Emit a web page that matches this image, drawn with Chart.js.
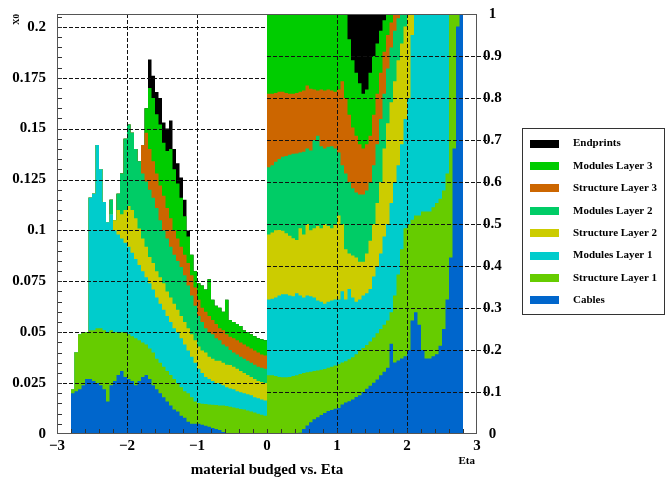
<!DOCTYPE html>
<html>
<head>
<meta charset="utf-8">
<script src="https://cdn.jsdelivr.net/npm/chart.js@4.4.1/dist/chart.umd.min.js"></script>
<style>
  html, body { margin: 0; padding: 0; background: #ffffff; }
  #wrap { width: 667px; height: 478px; }
</style>
</head>
<body>
<div id="wrap"><canvas id="chart" width="667" height="478"></canvas></div>
<script>
// Material budget of the detector layers versus pseudorapidity, in 0.05-wide eta bins.
// For eta < 0 every array holds the upper edge of that layer in the stack, in X0.
// For eta > 0 every array holds the upper edge of that layer as a fraction of the total.
const binWidth = 0.05;
const etaStartNeg = -2.8;
const etaStartPos = 0;

const layerNames = ['Cables', 'Structure Layer 1', 'Modules Layer 1', 'Structure Layer 2',
                    'Modules Layer 2', 'Structure Layer 3', 'Modules Layer 3', 'Endprints'];

const xTickLabels = ['\u22123', '\u22122', '\u22121', '0', '1', '2', '3'];
const x0TickLabels = ['0', '0.025', '0.05', '0.075', '0.1', '0.125', '0.15', '0.175', '0.2'];
const fracTickLabels = ['0', '0.1', '0.2', '0.3', '0.4', '0.5', '0.6', '0.7', '0.8', '0.9', '1'];

// ---- eta from -2.8 to 0 (X0) ----
const cablesX0 = [0.020,0.021,0.022,0.024,0.027,0.027,0.026,0.025,0.024,0.022,
  0.016,0.024,0.026,0.029,0.031,0.028,0.027,0.026,0.024,0.026,
  0.028,0.029,0.027,0.024,0.022,0.020,0.018,0.016,0.014,0.012,
  0.011,0.009,0.008,0.006,0.005,0.005,0.005,0.0045,0.004,0.0035,
  0.003,0.0025,0.002,0.001,0,0,0,0,0,0,
  0,0,0,0,0,0];
const structL1X0 = [0.022,0.040,0.049,0.050,0.050,0.051,0.051,0.052,0.052,0.051,
  0.050,0.051,0.050,0.050,0.050,0.050,0.049,0.048,0.047,0.046,
  0.045,0.044,0.042,0.040,0.037,0.035,0.033,0.031,0.029,0.027,
  0.025,0.023,0.021,0.020,0.018,0.016,0.0152,0.0149,0.0147,0.0145,
  0.0144,0.0142,0.014,0.014,0.0138,0.0134,0.013,0.0127,0.0123,0.012,
  0.0115,0.011,0.0105,0.010,0.0095,0.009];
const modL1X0 = [0.022,0.040,0.049,0.050,0.050,0.116,0.118,0.142,0.130,0.114,
  0.104,0.108,0.100,0.098,0.096,0.094,0.092,0.089,0.086,0.083,
  0.080,0.077,0.074,0.071,0.067,0.064,0.061,0.058,0.055,0.052,
  0.050,0.047,0.044,0.041,0.038,0.035,0.032,0.030,0.028,0.027,
  0.026,0.025,0.025,0.024,0.023,0.0224,0.022,0.021,0.0205,0.020,
  0.0195,0.019,0.018,0.0175,0.017,0.0165];
const structL2X0 = [0.022,0.040,0.049,0.050,0.050,0.116,0.118,0.142,0.130,0.114,
  0.104,0.108,0.105,0.110,0.108,0.110,0.112,0.110,0.106,0.101,
  0.096,0.092,0.087,0.084,0.080,0.077,0.074,0.070,0.067,0.064,
  0.061,0.058,0.055,0.052,0.049,0.046,0.043,0.041,0.040,0.038,
  0.037,0.036,0.036,0.035,0.034,0.0339,0.033,0.032,0.031,0.030,
  0.029,0.028,0.027,0.026,0.0255,0.025];
const modL2X0 = [0.022,0.040,0.049,0.050,0.050,0.116,0.118,0.142,0.130,0.114,
  0.104,0.115,0.105,0.118,0.128,0.145,0.152,0.148,0.140,0.134,
  0.128,0.124,0.120,0.116,0.111,0.105,0.100,0.096,0.092,0.088,
  0.085,0.082,0.078,0.073,0.068,0.063,0.058,0.055,0.052,0.050,
  0.049,0.047,0.046,0.044,0.043,0.0413,0.040,0.039,0.038,0.037,
  0.036,0.035,0.034,0.033,0.0325,0.032];
const structL3X0 = [0.022,0.040,0.049,0.050,0.050,0.116,0.118,0.142,0.130,0.114,
  0.104,0.115,0.105,0.118,0.128,0.145,0.152,0.148,0.140,0.134,
  0.142,0.148,0.140,0.134,0.128,0.122,0.117,0.111,0.106,0.100,
  0.096,0.092,0.088,0.084,0.078,0.072,0.066,0.062,0.060,0.058,
  0.056,0.054,0.052,0.051,0.049,0.0478,0.047,0.046,0.045,0.044,
  0.043,0.042,0.041,0.040,0.039,0.0385];
const modL3X0 = [0.022,0.040,0.049,0.050,0.050,0.116,0.118,0.142,0.130,0.114,
  0.104,0.115,0.105,0.118,0.128,0.145,0.152,0.148,0.140,0.134,
  0.142,0.160,0.170,0.165,0.157,0.152,0.143,0.139,0.140,0.130,
  0.123,0.116,0.107,0.097,0.088,0.080,0.074,0.073,0.071,0.076,
  0.066,0.063,0.062,0.060,0.066,0.056,0.055,0.054,0.053,0.051,
  0.050,0.049,0.048,0.047,0.0465,0.046];
const endprintsX0 = [0.022,0.040,0.049,0.050,0.050,0.116,0.118,0.142,0.130,0.114,
  0.104,0.115,0.105,0.118,0.128,0.145,0.152,0.148,0.140,0.134,
  0.142,0.160,0.184,0.176,0.168,0.165,0.153,0.150,0.154,0.140,
  0.133,0.126,0.115,0.100,0.088,0.080,0.074,0.073,0.071,0.076,
  0.066,0.063,0.062,0.060,0.066,0.056,0.055,0.054,0.053,0.051,
  0.050,0.049,0.048,0.047,0.0465,0.046];

// ---- eta from 0 to 2.8 (fraction of total) ----
const cablesFrac = [0,0,0,0,0,0,0,0,0,0.003,
  0.012,0.020,0.028,0.035,0.040,0.045,0.050,0.055,0.057,0.060,
  0.062,0.070,0.075,0.078,0.082,0.088,0.092,0.100,0.108,0.115,
  0.122,0.130,0.140,0.148,0.158,0.215,0.170,0.175,0.180,0.185,
  0.200,0.270,0.290,0.260,0.200,0.180,0.180,0.185,0.190,0.210,
  0.250,0.320,0.420,0.680,0.970,1];
const structL1Frac = [0.140,0.140,0.138,0.136,0.135,0.135,0.136,0.138,0.140,0.143,
  0.145,0.147,0.148,0.150,0.151,0.153,0.155,0.158,0.160,0.163,
  0.166,0.170,0.173,0.178,0.183,0.190,0.198,0.205,0.212,0.220,
  0.230,0.240,0.250,0.260,0.270,0.290,0.330,0.380,0.440,0.490,
  0.500,0.510,0.520,0.520,0.530,0.530,0.530,0.540,0.550,0.560,
  0.580,0.620,1,1,1,1];
const modL1Frac = [0.320,0.322,0.325,0.330,0.333,0.333,0.330,0.328,0.335,0.330,
  0.325,0.330,0.328,0.325,0.318,0.315,0.310,0.315,0.318,0.320,
  0.320,0.340,0.320,0.345,0.325,0.315,0.320,0.330,0.335,0.345,
  0.375,0.400,0.430,0.470,0.500,0.550,0.600,0.640,0.690,0.750,
  0.800,0.950,1,1,1,1,1,1,1,1,
  1,1,1,1,1,1];
const structL2Frac = [0.475,0.480,0.485,0.486,0.484,0.478,0.472,0.466,0.462,0.490,
  0.475,0.500,0.485,0.490,0.495,0.490,0.500,0.495,0.490,0.500,
  0.520,0.500,0.440,0.430,0.425,0.420,0.410,0.410,0.430,0.460,
  0.500,0.550,0.600,0.680,0.740,0.790,0.840,0.890,0.930,0.970,
  1,1,1,1,1,1,1,1,1,1,
  1,1,1,1,1,1];
const modL2Frac = [0.635,0.640,0.648,0.655,0.660,0.662,0.665,0.667,0.668,0.670,
  0.672,0.680,0.675,0.700,0.710,0.685,0.680,0.684,0.685,0.680,
  0.670,0.640,0.620,0.600,0.585,0.575,0.570,0.570,0.580,0.600,
  0.640,0.690,0.750,0.810,0.870,0.920,0.960,0.990,1,1,
  1,1,1,1,1,1,1,1,1,1,
  1,1,1,1,1,1];
const structL3Frac = [0.810,0.810,0.812,0.815,0.815,0.812,0.810,0.810,0.812,0.815,
  0.818,0.830,0.822,0.820,0.818,0.820,0.818,0.820,0.818,0.815,
  0.820,0.840,0.800,0.760,0.730,0.710,0.690,0.680,0.690,0.710,
  0.760,0.810,0.860,0.910,0.950,0.980,1,1,1,1,
  1,1,1,1,1,1,1,1,1,1,
  1,1,1,1,1,1];
const modL3Frac = [1,1,1,1,1,1,1,1,1,1,
  1,1,1,1,1,1,1,1,1,1,
  1,1,1,0.940,0.890,0.860,0.835,0.810,0.820,0.860,
  0.900,0.930,0.960,0.985,1,1,1,1,1,1,
  1,1,1,1,1,1,1,1,1,1,
  1,1,1,1,1,1];
const endprintsFrac = [1,1,1,1,1,1,1,1,1,1,
  1,1,1,1,1,1,1,1,1,1,
  1,1,1,1,1,1,1,1,1,1,
  1,1,1,1,1,1,1,1,1,1,
  1,1,1,1,1,1,1,1,1,1,
  1,1,1,1,1,1];

const negSeries = [cablesX0, structL1X0, modL1X0, structL2X0, modL2X0, structL3X0, modL3X0, endprintsX0];
const posSeries = [cablesFrac, structL1Frac, modL1Frac, structL2Frac, modL2Frac, structL3Frac, modL3Frac, endprintsFrac];

const layerColors = ['rgb(0,102,204)', 'rgb(102,204,0)', 'rgb(0,204,204)', 'rgb(204,204,0)',
                     'rgb(0,204,102)', 'rgb(204,102,0)', 'rgb(0,204,0)', 'rgb(0,0,0)'];

const serif = '"Liberation Serif", "Times New Roman", Times, serif';

// Histogram bins become stepped points: one point on every left bin edge plus the closing edge.
function stepPoints(start, values) {
  const pts = values.map((v, i) => ({ x: start + i * binWidth, y: v }));
  pts.push({ x: start + values.length * binWidth, y: values[values.length - 1] });
  return pts;
}

// Each band is filled down to the axis; lower layers are drawn over higher ones.
function makeDatasets(series, axisId) {
  return series.map((vals, i) => ({
    label: layerNames[i],
    data: stepPoints(axisId === 'yL' ? etaStartNeg : etaStartPos, vals),
    yAxisID: axisId,
    stepped: 'before',
    fill: 'origin',
    backgroundColor: layerColors[i],
    borderColor: 'rgba(0,0,0,0)',
    borderWidth: 0,
    pointRadius: 0,
    pointHoverRadius: 0
  }));
}

// Dashed grid (left scale on the negative side, right scale on the positive side), ticks and frame.
const frameGrid = {
  id: 'frameGrid',
  afterDatasetsDraw(chart) {
    const { ctx, chartArea: a, scales } = chart;
    const xs = scales.x, yl = scales.yL, yr = scales.yR;
    const px = v => Math.round(xs.getPixelForValue(v)) + 0.5;
    const xZero = xs.getPixelForValue(0);
    ctx.save();
    ctx.lineWidth = 1;
    ctx.strokeStyle = '#111';
    ctx.setLineDash([4, 2]);
    ctx.beginPath();
    yl.ticks.forEach(t => {
      if (t.value <= 0) return;
      const y = Math.round(yl.getPixelForValue(t.value)) + 0.5;
      ctx.moveTo(a.left, y); ctx.lineTo(xZero, y);
    });
    yr.ticks.forEach(t => {
      if (t.value <= 0 || t.value >= 1) return;
      const y = Math.round(yr.getPixelForValue(t.value)) + 0.5;
      ctx.moveTo(xZero, y); ctx.lineTo(a.right + 13, y);
    });
    xs.ticks.forEach(t => {
      if (t.value === 0 || t.value <= xs.min || t.value >= xs.max) return;
      const x = px(t.value);
      ctx.moveTo(x, a.top); ctx.lineTo(x, a.bottom);
    });
    ctx.stroke();
    ctx.setLineDash([]);

    // small inward ticks
    ctx.strokeStyle = '#333';
    ctx.beginPath();
    for (let v = 0.005; v < yl.max; v += 0.005) {
      const y = Math.round(yl.getPixelForValue(v)) + 0.5;
      ctx.moveTo(a.left, y); ctx.lineTo(a.left + 5, y);
    }
    for (let v = xs.min + 0.2; v < xs.max - 0.01; v += 0.2) {
      const x = px(v);
      ctx.moveTo(x, a.bottom); ctx.lineTo(x, a.bottom - 5);
    }
    ctx.stroke();

    ctx.strokeStyle = '#555';
    ctx.strokeRect(Math.round(a.left) + 0.5, Math.round(a.top) + 0.5,
                   Math.round(a.right - a.left) - 1, Math.round(a.bottom - a.top) - 1);
    ctx.restore();
  }
};

// Boxed legend listing the layers from the top of the stack downwards, plus the "Eta" axis tag.
const boxLegend = {
  id: 'boxLegend',
  afterDraw(chart) {
    const { ctx, scales } = chart;
    const items = chart.data.datasets.filter(d => d.yAxisID === 'yL').slice().reverse();
    ctx.save();
    ctx.strokeStyle = '#333';
    ctx.lineWidth = 1;
    ctx.strokeRect(522.5, 128.5, 142, 186);
    ctx.font = 'bold 11px ' + serif;
    ctx.textBaseline = 'middle';
    ctx.textAlign = 'left';
    items.forEach((d, i) => {
      const cy = 143.5 + i * 22.4;
      ctx.fillStyle = d.backgroundColor;
      ctx.fillRect(530, Math.round(cy - 4), 29, 8);
      ctx.fillStyle = '#000';
      ctx.fillText(d.label, 573, cy);
    });
    ctx.font = 'bold 11px ' + serif;
    ctx.textAlign = 'right';
    ctx.textBaseline = 'alphabetic';
    ctx.fillText('Eta', scales.x.right - 2, scales.x.top + 29.5);
    ctx.restore();
  }
};

// Keep the plot frame exactly where the scale boxes put it (no extra label overflow padding).
function fixBox(size, horizontal) {
  return s => {
    if (horizontal) { s.height = size; } else { s.width = size; }
    s.paddingTop = 0; s.paddingBottom = 0; s.paddingLeft = 0; s.paddingRight = 0;
  };
}

Chart.defaults.font.family = serif;
Chart.defaults.font.weight = 'bold';
Chart.defaults.color = '#000';

new Chart(document.getElementById('chart'), {
  type: 'line',
  data: { datasets: makeDatasets(negSeries, 'yL').concat(makeDatasets(posSeries, 'yR')) },
  options: {
    responsive: false,
    animation: false,
    events: [],
    layout: { padding: { top: 14, left: 0, right: 0, bottom: 0 } },
    plugins: { legend: { display: false }, tooltip: { enabled: false } },
    scales: {
      x: {
        type: 'linear', position: 'bottom', min: -3, max: 3,
        grid: { display: false, drawTicks: false }, border: { display: false },
        ticks: {
          stepSize: 1, autoSkip: false, maxRotation: 0, padding: 3,
          font: { size: 15, weight: 'bold' },
          callback: (v, i) => xTickLabels[i]
        },
        title: {
          display: true, text: 'material budged vs. Eta',
          font: { size: 15, weight: 'bold', lineHeight: 1.2 }, padding: { top: 0, bottom: -1 }
        },
        afterFit: fixBox(44, true)
      },
      yL: {
        type: 'linear', position: 'left', min: 0, max: 0.2063,
        grid: { display: false, drawTicks: false }, border: { display: false },
        ticks: {
          stepSize: 0.025, includeBounds: false, autoSkip: false, padding: 11,
          font: { size: 15, weight: 'bold' },
          callback: (v, i) => x0TickLabels[i]
        },
        title: {
          display: true, text: 'X0', align: 'end',
          font: { size: 9, weight: 'bold', lineHeight: 1.2 }, padding: { top: 11, bottom: 0 }
        },
        afterFit: fixBox(57, false)
      },
      yR: {
        type: 'linear', position: 'right', min: 0, max: 1,
        grid: { display: false, drawTicks: false }, border: { display: false },
        ticks: {
          stepSize: 0.1, autoSkip: false, padding: 6, crossAlign: 'center',
          font: { size: 15, weight: 'bold' },
          callback: (v, i) => fracTickLabels[i]
        },
        afterFit: fixBox(190, false)
      }
    }
  },
  plugins: [frameGrid, boxLegend]
});
</script>
</body>
</html>
